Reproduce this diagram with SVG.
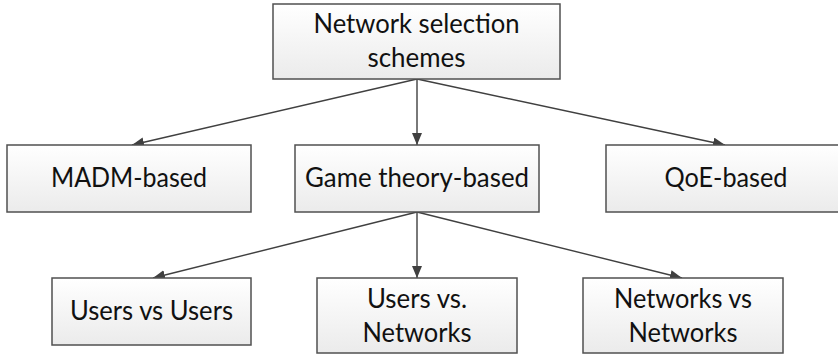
<svg xmlns="http://www.w3.org/2000/svg" width="838" height="354" viewBox="0 0 838 354">
  <style>
    .box { fill: url(#boxfill); stroke: #505050; stroke-width: 1.5; }
    .lbl { font-family: Lato, "Liberation Sans", Arial, sans-serif; font-size: 26px; fill: #111; text-anchor: middle; }
    .edge { stroke: #404040; stroke-width: 1.4; fill: none; marker-end: url(#arrow); }
  </style>
  <defs>
    <linearGradient id="boxfill" x1="0" y1="0" x2="0" y2="1">
      <stop offset="0" stop-color="#ffffff"/>
      <stop offset="1" stop-color="#ebebeb"/>
    </linearGradient>
    <marker id="arrow" viewBox="0 0 12 10" refX="12" refY="5" markerWidth="12" markerHeight="10" markerUnits="userSpaceOnUse" orient="auto">
      <path d="M0,0 L12,5 L0,10 Z" fill="#404040"/>
    </marker>
  </defs>

  <g id="connectors">
    <line class="edge" x1="417" y1="79" x2="132" y2="145"/>
    <line class="edge" x1="417" y1="79" x2="417" y2="145"/>
    <line class="edge" x1="417" y1="79" x2="725" y2="145"/>
    <line class="edge" x1="417" y1="212" x2="153" y2="278"/>
    <line class="edge" x1="417" y1="212" x2="417" y2="278"/>
    <line class="edge" x1="417" y1="212" x2="682" y2="278"/>
  </g>

  <g id="root">
    <rect class="box" x="273" y="4" width="287" height="75"/>
    <text class="lbl" x="416.5" y="33" textLength="206" lengthAdjust="spacingAndGlyphs">Network selection</text>
    <text class="lbl" x="416.5" y="67" textLength="98" lengthAdjust="spacingAndGlyphs">schemes</text>
  </g>

  <g id="madm">
    <rect class="box" x="7" y="145" width="244" height="67"/>
    <text class="lbl" x="129" y="187" textLength="156" lengthAdjust="spacingAndGlyphs">MADM-based</text>
  </g>

  <g id="game">
    <rect class="box" x="295" y="145" width="244" height="67"/>
    <text class="lbl" x="417" y="187" textLength="224" lengthAdjust="spacingAndGlyphs">Game theory-based</text>
  </g>

  <g id="qoe">
    <rect class="box" x="606" y="145" width="240" height="67"/>
    <text class="lbl" x="726" y="187" textLength="123" lengthAdjust="spacingAndGlyphs">QoE-based</text>
  </g>

  <g id="users-users">
    <rect class="box" x="52" y="278" width="199" height="67"/>
    <text class="lbl" x="151.5" y="319.5" textLength="163" lengthAdjust="spacingAndGlyphs">Users vs Users</text>
  </g>

  <g id="users-networks">
    <rect class="box" x="317" y="278" width="200" height="75"/>
    <text class="lbl" x="417" y="307.5" textLength="100" lengthAdjust="spacingAndGlyphs">Users vs.</text>
    <text class="lbl" x="417" y="341.5" textLength="109" lengthAdjust="spacingAndGlyphs">Networks</text>
  </g>

  <g id="networks-networks">
    <rect class="box" x="583" y="278" width="200" height="75"/>
    <text class="lbl" x="683" y="307.5" textLength="138" lengthAdjust="spacingAndGlyphs">Networks vs</text>
    <text class="lbl" x="683" y="341.5" textLength="109" lengthAdjust="spacingAndGlyphs">Networks</text>
  </g>
</svg>
